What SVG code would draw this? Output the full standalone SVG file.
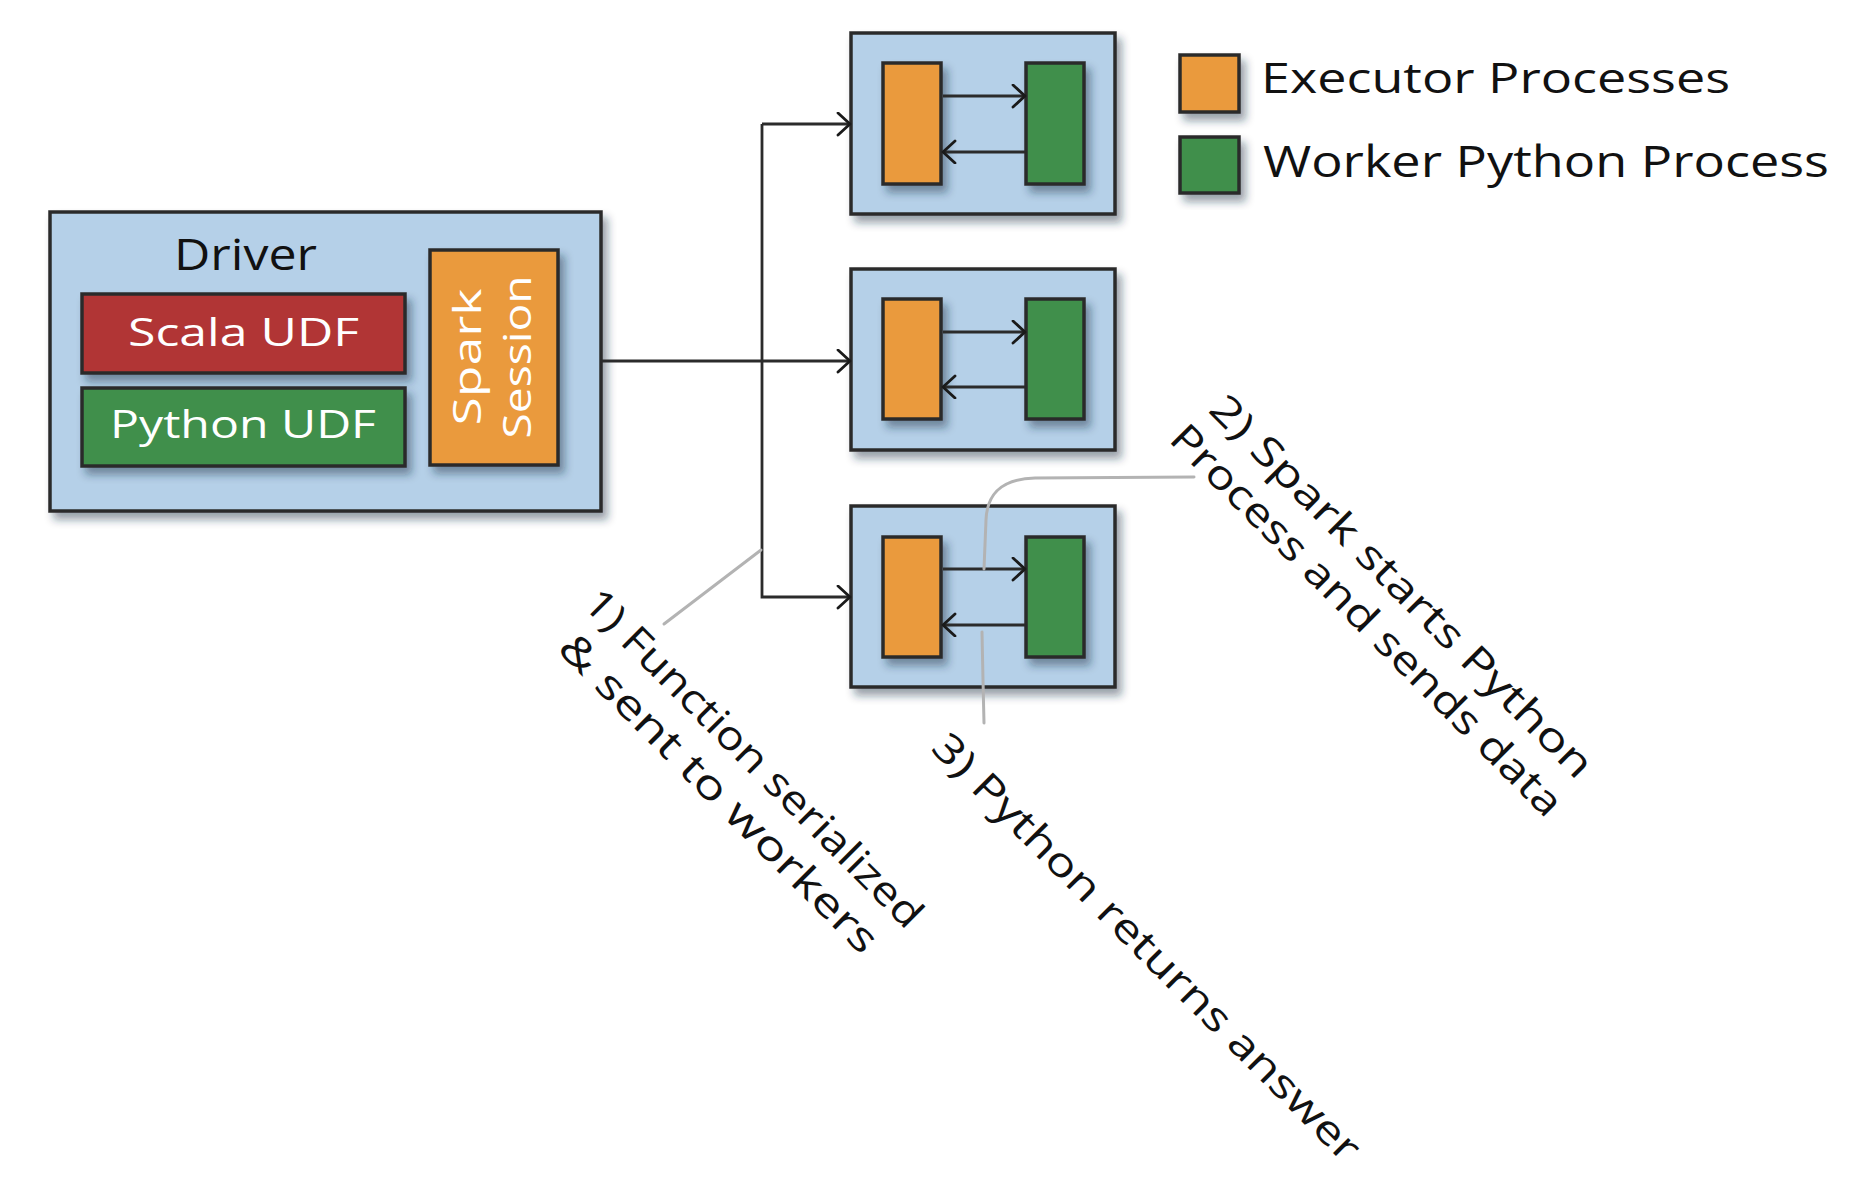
<svg xmlns="http://www.w3.org/2000/svg" width="1864" height="1202" viewBox="0 0 1864 1202">
<defs>
<filter id="sh" x="-20%" y="-20%" width="150%" height="150%">
<feDropShadow dx="5" dy="7" stdDeviation="4" flood-color="#1e2e40" flood-opacity="0.45"/>
</filter>
<marker id="chev" markerUnits="userSpaceOnUse" markerWidth="16" markerHeight="26" refX="14" refY="12" orient="auto">
<path d="M2,1 L14,12 L2,23" fill="none" stroke="#1a1a1a" stroke-width="2.8" stroke-linecap="round" stroke-linejoin="round"/>
</marker>
</defs>
<style>
.box{fill:#B5D0E8;stroke:#2b2b2b;stroke-width:3.5;filter:url(#sh)}
.orange{fill:#EA9A3E;stroke:#2b2b2b;stroke-width:3.5;filter:url(#sh)}
.green{fill:#3F8F4C;stroke:#2b2b2b;stroke-width:3.5;filter:url(#sh)}
.red{fill:#B13434;stroke:#2b2b2b;stroke-width:3.5;filter:url(#sh)}
.conn{fill:none;stroke:#2b2b2b;stroke-width:2.8;marker-end:url(#chev)}
.lead{fill:none;stroke:#b3b3b3;stroke-width:3;stroke-linecap:round}
text{font-family:"Open Sans","Liberation Sans",sans-serif}
.dark{fill:#111}
.white{fill:#fff}
.ann{fill:#111;font-size:40px;text-anchor:middle}
</style>
<rect width="1864" height="1202" fill="#fff"/>

<g id="driver">
<rect class="box" x="50" y="212" width="551" height="299"/>
<text class="dark" x="174" y="270" font-size="43" textLength="143" lengthAdjust="spacingAndGlyphs">Driver</text>
</g>
<g id="scala-udf">
<rect class="red" x="82" y="294" width="323" height="79"/>
<text class="white" x="128" y="346" font-size="39" textLength="231" lengthAdjust="spacingAndGlyphs">Scala UDF</text>
</g>
<g id="python-udf">
<rect class="green" x="82" y="388" width="323" height="78"/>
<text class="white" x="110" y="438" font-size="39" textLength="266" lengthAdjust="spacingAndGlyphs">Python UDF</text>
</g>
<g id="spark-session">
<rect class="orange" x="430" y="250" width="128" height="215"/>
<text class="white" transform="translate(481,357) rotate(-90)" text-anchor="middle" font-size="39" textLength="137" lengthAdjust="spacingAndGlyphs">Spark</text>
<text class="white" transform="translate(531,357) rotate(-90)" text-anchor="middle" font-size="39" textLength="163" lengthAdjust="spacingAndGlyphs">Session</text>
</g>

<g id="executor-1">
<rect class="box" x="851" y="33" width="264" height="181"/>
<rect class="orange" x="883" y="63" width="58" height="121"/>
<rect class="green" x="1026" y="63" width="58" height="121"/>
</g>
<g id="executor-2">
<rect class="box" x="851" y="269" width="264" height="181"/>
<rect class="orange" x="883" y="299" width="58" height="120"/>
<rect class="green" x="1026" y="299" width="58" height="120"/>
</g>
<g id="executor-3">
<rect class="box" x="851" y="506" width="264" height="181"/>
<rect class="orange" x="883" y="537" width="58" height="120"/>
<rect class="green" x="1026" y="537" width="58" height="120"/>
</g>

<g id="legend">
<rect class="orange" x="1180" y="55" width="59" height="57"/>
<text class="dark" x="1261" y="93" font-size="42" textLength="469" lengthAdjust="spacingAndGlyphs">Executor Processes</text>
<rect class="green" x="1180" y="137" width="59" height="56"/>
<text class="dark" x="1263" y="177" font-size="43" textLength="566" lengthAdjust="spacingAndGlyphs">Worker Python Process</text>
</g>

<g id="connectors">
<path class="conn" d="M602,361 H850"/>
<path class="conn" d="M762,124 H850"/>
<path class="conn" d="M762,124 V597 H850"/>
<path class="conn" d="M943,96 H1025"/>
<path class="conn" d="M1025,152 H943"/>
<path class="conn" d="M943,332 H1025"/>
<path class="conn" d="M1025,387 H943"/>
<path class="conn" d="M943,569 H1025"/>
<path class="conn" d="M1025,625 H943"/>
<path class="lead" d="M761,550 L664,624"/>
<path class="lead" d="M1194,477 L1035,478 C1000,479 987,495 986,520 L984,569"/>
<path class="lead" d="M982,632 L983,680 L984,723"/>
</g>

<g id="annotations">
<text class="ann" transform="translate(744,768) rotate(45)" textLength="460" lengthAdjust="spacingAndGlyphs">1) Function serialized</text>
<text class="ann" transform="translate(709,803) rotate(45)" textLength="433" lengthAdjust="spacingAndGlyphs">&amp; sent to workers</text>
<text class="ann" transform="translate(1392,596) rotate(45)" textLength="523" lengthAdjust="spacingAndGlyphs">2) Spark starts Python</text>
<text class="ann" transform="translate(1357,630) rotate(45)" textLength="536" lengthAdjust="spacingAndGlyphs">Process and sends data</text>
<text class="ann" transform="translate(1137,957) rotate(45)" textLength="587" lengthAdjust="spacingAndGlyphs">3) Python returns answer</text>
</g>
</svg>
